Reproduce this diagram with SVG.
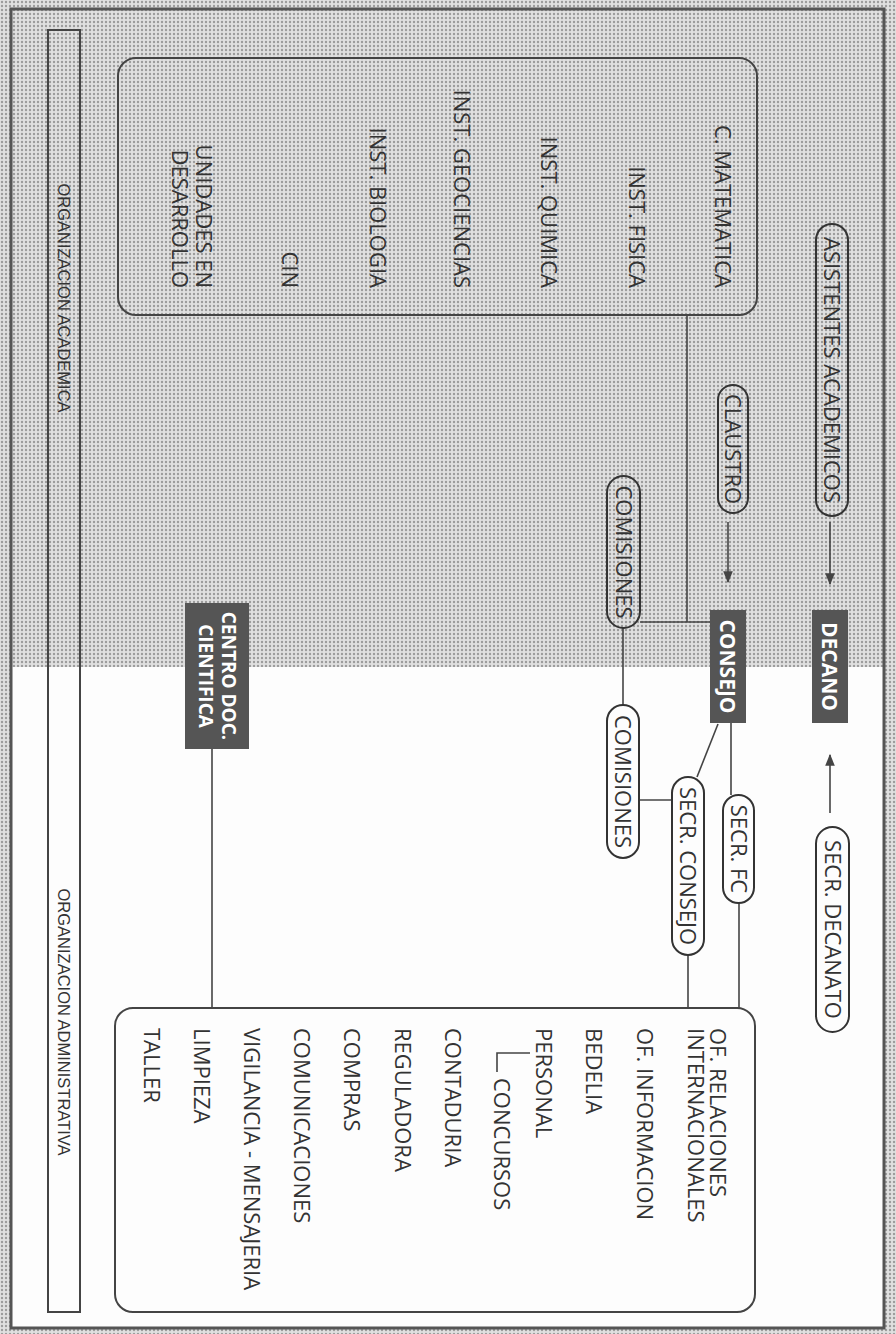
<svg xmlns="http://www.w3.org/2000/svg" width="896" height="1334" viewBox="0 0 896 1334">
<defs>
<pattern id="dots" width="4" height="4" patternUnits="userSpaceOnUse">
<rect width="4" height="4" fill="#e0e0e0"/>
<circle cx="2" cy="2" r="1.2" fill="#9c9c9c"/>
</pattern>
<marker id="ahb" viewBox="0 0 10 10" refX="9" refY="5" markerWidth="12" markerHeight="12" orient="auto" markerUnits="userSpaceOnUse">
<path d="M0,1 L10,5 L0,9 Z" fill="#444"/>
</marker>
</defs>
<style>
.t{font-family:"Open Sans","Liberation Sans",sans-serif;font-size:22px;fill:#333}
.w{font-family:"Open Sans","Liberation Sans",sans-serif;font-size:21px;font-weight:bold;fill:#fff}
.w2{font-family:"Open Sans","Liberation Sans",sans-serif;font-size:19px;font-weight:bold;fill:#fff}
.s{font-family:"Liberation Sans",Arial,sans-serif;font-size:16.5px;fill:#333}
.pill{fill:none;stroke:#333;stroke-width:2}
.box{fill:none;stroke:#444;stroke-width:2}
.dk{fill:#555}
.ln{stroke:#444;stroke-width:1.6;fill:none}
</style>
<rect x="0" y="0" width="896" height="1334" fill="url(#dots)"/>
<rect x="11" y="667" width="873" height="661" fill="#fdfdfd"/>
<rect x="11" y="9" width="873" height="1319" fill="none" stroke="#555" stroke-width="3"/>

<g id="strip">
<rect x="48" y="30" width="32" height="1282" class="box"/>
<text class="s" text-anchor="middle" y="6" transform="translate(64,298) rotate(90)">ORGANIZACION ACADEMICA</text>
<text class="s" text-anchor="middle" y="6" transform="translate(64,1022) rotate(90)">ORGANIZACION ADMINISTRATIVA</text>
</g>

<g id="connectors">
<line class="ln" x1="830" y1="522" x2="830" y2="584" marker-end="url(#ahb)"/>
<line class="ln" x1="728" y1="522" x2="728" y2="582" marker-end="url(#ahb)"/>
<line class="ln" x1="830" y1="813" x2="830" y2="755" marker-end="url(#ahb)"/>
<line class="ln" x1="687" y1="316" x2="687" y2="622"/>
<line class="ln" x1="640" y1="622" x2="710" y2="622"/>
<line class="ln" x1="623" y1="628" x2="623" y2="705"/>
<line class="ln" x1="639" y1="800" x2="672" y2="800"/>
<line class="ln" x1="718" y1="724" x2="697" y2="777"/>
<line class="ln" x1="731" y1="723" x2="731" y2="795"/>
<line class="ln" x1="739" y1="903" x2="739" y2="1008"/>
<line class="ln" x1="688" y1="955" x2="688" y2="1008"/>
<line class="ln" x1="212" y1="749" x2="212" y2="1008"/>
</g>

<g id="academic">
<rect x="118" y="58" width="639" height="257" rx="18" class="box"/>
<text class="t" text-anchor="end" y="8" transform="translate(723,288) rotate(90)">C. MATEMATICA</text>
<text class="t" text-anchor="end" y="8" transform="translate(637,288) rotate(90)">INST. FISICA</text>
<text class="t" text-anchor="end" y="8" transform="translate(549,288) rotate(90)">INST. QUIMICA</text>
<text class="t" text-anchor="end" y="8" transform="translate(462,288) rotate(90)">INST. GEOCIENCIAS</text>
<text class="t" text-anchor="end" y="8" transform="translate(378,288) rotate(90)">INST. BIOLOGIA</text>
<text class="t" text-anchor="end" y="8" transform="translate(290,288) rotate(90)">CIN</text>
<text class="t" text-anchor="end" y="8" transform="translate(204,288) rotate(90)">UNIDADES EN</text>
<text class="t" text-anchor="end" y="8" transform="translate(180,288) rotate(90)">DESARROLLO</text>
</g>

<g id="asistentes">
<rect x="816" y="224" width="32" height="292" rx="16" class="pill"/>
<text class="t" text-anchor="middle" y="8" transform="translate(832,370) rotate(90)">ASISTENTES ACADEMICOS</text>
</g>

<g id="claustro">
<rect x="718" y="385" width="30" height="128" rx="15" class="pill"/>
<text class="t" text-anchor="middle" y="8" transform="translate(733,449) rotate(90)">CLAUSTRO</text>
</g>

<g id="comisiones1">
<rect x="607" y="476" width="33" height="152" rx="16.5" class="pill"/>
<text class="t" text-anchor="middle" y="8" transform="translate(623.5,552) rotate(90)">COMISIONES</text>
</g>

<g id="decano">
<rect x="812" y="610" width="36" height="113" class="dk"/>
<text class="w" text-anchor="middle" y="8" transform="translate(830,666.5) rotate(90)">DECANO</text>
</g>

<g id="consejo">
<rect x="710" y="610" width="36" height="113" class="dk"/>
<text class="w" text-anchor="middle" y="8" transform="translate(728,666.5) rotate(90)">CONSEJO</text>
</g>

<g id="comisiones2">
<rect x="607" y="705" width="32" height="153" rx="16" class="pill"/>
<text class="t" text-anchor="middle" y="8" transform="translate(623,781.5) rotate(90)">COMISIONES</text>
</g>

<g id="secr-consejo">
<rect x="672" y="777" width="32" height="178" rx="16" class="pill"/>
<text class="t" text-anchor="middle" y="8" transform="translate(688,866) rotate(90)">SECR. CONSEJO</text>
</g>

<g id="secr-fc">
<rect x="723" y="795" width="31" height="108" rx="15.5" class="pill"/>
<text class="t" text-anchor="middle" y="8" transform="translate(738.5,849) rotate(90)">SECR. FC</text>
</g>

<g id="secr-decanato">
<rect x="816" y="827" width="33" height="205" rx="16.5" class="pill"/>
<text class="t" text-anchor="middle" y="8" transform="translate(832.5,929.5) rotate(90)">SECR. DECANATO</text>
</g>

<g id="centro-doc">
<rect x="185" y="603" width="64" height="146" class="dk"/>
<text class="w2" text-anchor="middle" y="7" transform="translate(229,676) rotate(90)">CENTRO DOC.</text>
<text class="w2" text-anchor="middle" y="7" transform="translate(206,676) rotate(90)">CIENTIFICA</text>
</g>

<g id="administrativa">
<rect x="115" y="1008" width="640" height="304" rx="18" class="box"/>
<text class="t" y="8" transform="translate(718,1028) rotate(90)">OF. RELACIONES</text>
<text class="t" y="8" transform="translate(696,1028) rotate(90)">INTERNACIONALES</text>
<text class="t" y="8" transform="translate(645,1028) rotate(90)">OF. INFORMACION</text>
<text class="t" y="8" transform="translate(594,1028) rotate(90)">BEDELIA</text>
<text class="t" y="8" transform="translate(544,1028) rotate(90)">PERSONAL</text>
<path class="ln" d="M530,1053 L497,1053 L497,1072"/>
<text class="t" y="8" transform="translate(502,1078) rotate(90)">CONCURSOS</text>
<text class="t" y="8" transform="translate(453,1028) rotate(90)">CONTADURIA</text>
<text class="t" y="8" transform="translate(403,1028) rotate(90)">REGULADORA</text>
<text class="t" y="8" transform="translate(352,1028) rotate(90)">COMPRAS</text>
<text class="t" y="8" transform="translate(302,1028) rotate(90)">COMUNICACIONES</text>
<text class="t" y="8" transform="translate(252,1028) rotate(90)">VIGILANCIA - MENSAJERIA</text>
<text class="t" y="8" transform="translate(202,1028) rotate(90)">LIMPIEZA</text>
<text class="t" y="8" transform="translate(152,1028) rotate(90)">TALLER</text>
</g>
</svg>
